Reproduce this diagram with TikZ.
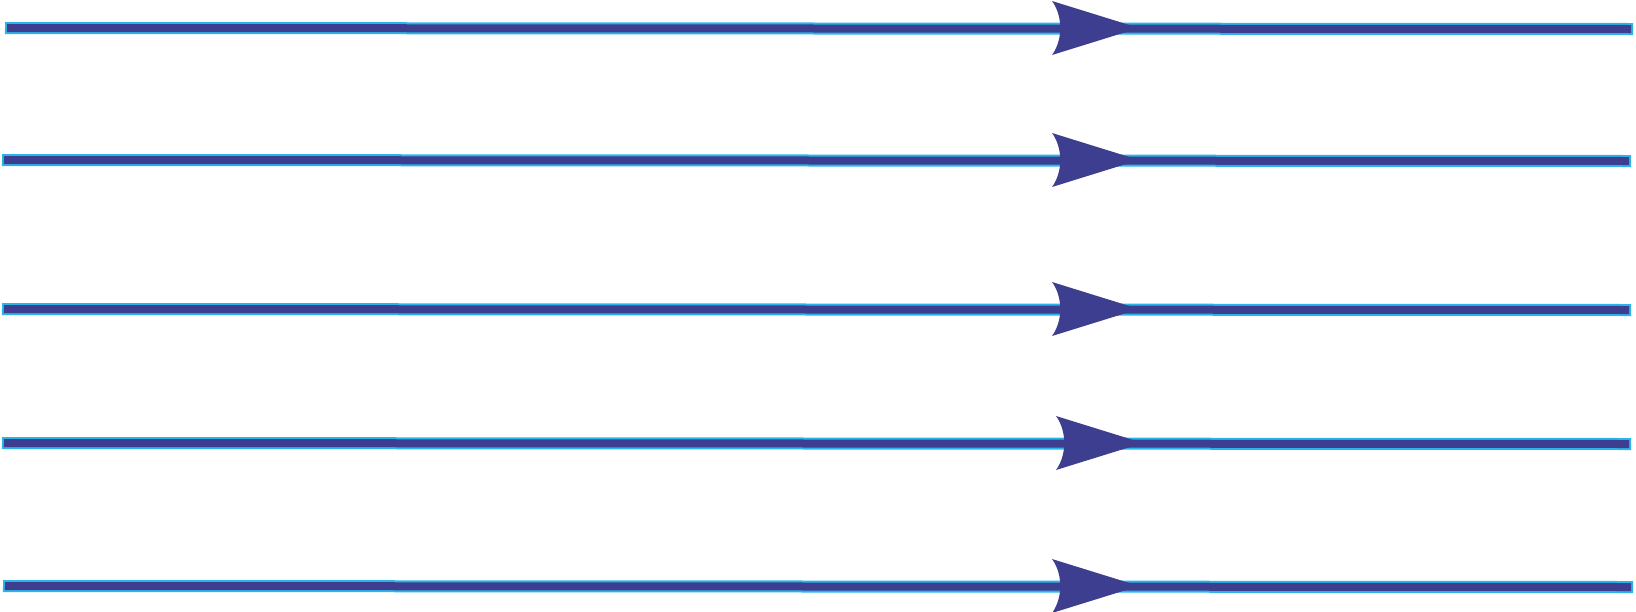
\documentclass[tikz,border=0pt]{standalone}
\usepackage{tikz}
\definecolor{fluxpurple}{RGB}{62,62,145}
\definecolor{fluxcyan}{RGB}{41,181,232}
\tikzset{
  flowline/.style={draw=fluxcyan,line width=12pt,
    postaction={draw=fluxpurple,line width=8pt,shorten <=2pt,shorten >=2pt}},
  flowhead/.pic={\fill[fluxpurple] (-87,-27) .. controls (-76,-12) and (-76,12) .. (-87,27) -- (0,0) -- cycle;}
}

\begin{document}
\begin{tikzpicture}[x=1pt,y=-1pt]
      \useasboundingbox (0,0) rectangle (1636,611);
      % Line 1
      \coordinate (w1) at (5,28);
      \coordinate (e1) at (1633,29);
      \coordinate (h1) at (1139,28);
      \draw[flowline] (w1) -- (e1);
      \pic at (h1) {flowhead};
      % Line 2
      \coordinate (w2) at (2,160);
      \coordinate (e2) at (1631,161);
      \coordinate (h2) at (1139,160);
      \draw[flowline] (w2) -- (e2);
      \pic at (h2) {flowhead};
      % Line 3
      \coordinate (w3) at (2,309);
      \coordinate (e3) at (1631,310);
      \coordinate (h3) at (1139,309);
      \draw[flowline] (w3) -- (e3);
      \pic at (h3) {flowhead};
      % Line 4
      \coordinate (w4) at (2,443);
      \coordinate (e4) at (1631,444);
      \coordinate (h4) at (1143,443);
      \draw[flowline] (w4) -- (e4);
      \pic at (h4) {flowhead};
      % Line 5
      \coordinate (w5) at (3,586);
      \coordinate (e5) at (1633,587);
      \coordinate (h5) at (1139,586);
      \draw[flowline] (w5) -- (e5);
      \pic at (h5) {flowhead};
    \end{tikzpicture}
\end{document}
